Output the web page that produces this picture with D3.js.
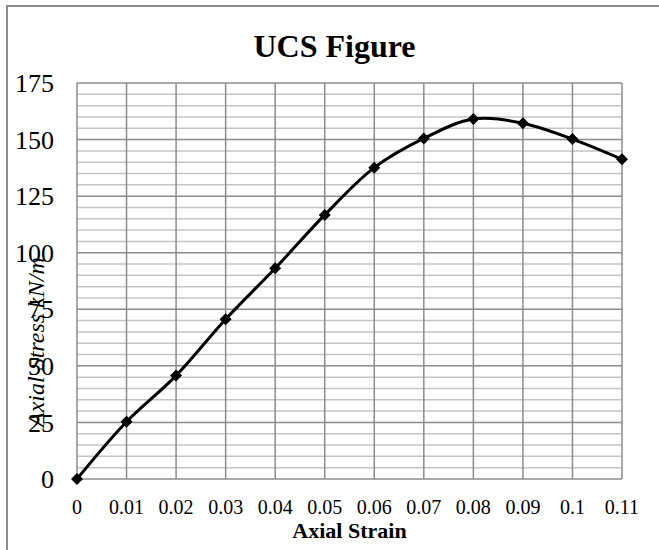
<!DOCTYPE html>
<html>
<head>
<meta charset="utf-8">
<script src="https://cdn.jsdelivr.net/npm/d3@7"></script>
<style>
    body { margin: 0; background: #fff; }
    svg { display: block; font-family: "Liberation Serif", "Times New Roman", serif; }
</style>
</head>
<body>
<svg id="chart" width="659" height="550"></svg>
<script>
// Strain readings and measured stress (kN/m2)
const strain = [0, 0.01, 0.02, 0.03, 0.04, 0.05, 0.06, 0.07, 0.08, 0.09, 0.1, 0.11];
const stress = [0, 25.3, 45.7, 70.6, 93.1, 116.7, 137.6, 150.5, 159.1, 157.2, 150.2, 141.3];

const xTickLabels = ["0", "0.01", "0.02", "0.03", "0.04", "0.05", "0.06", "0.07", "0.08", "0.09", "0.1", "0.11"];
const yTicks = [0, 25, 50, 75, 100, 125, 150, 175];

const svg = d3.select("#chart");

// Outer chart frame (only top and left edges fall inside the picture)
svg.append("path")
    .attr("d", "M7,550 V6 H659")
    .attr("fill", "none")
    .attr("stroke", "#8c8c8c")
    .attr("stroke-width", 2);

const plot = { left: 77, right: 622, top: 83, bottom: 479 };

const x = d3.scaleLinear().domain([0, 0.11]).range([plot.left, plot.right]);
const y = d3.scaleLinear().domain([0, 175]).range([plot.bottom, plot.top]);

// Minor horizontal gridlines every 5
const minor = d3.range(0, 176, 5).filter(v => v % 25 !== 0);
svg.append("g").selectAll("line")
    .data(minor)
    .join("line")
    .attr("x1", plot.left).attr("x2", plot.right)
    .attr("y1", d => y(d)).attr("y2", d => y(d))
    .attr("stroke", "#c4c4c4")
    .attr("stroke-width", 1.5);

// Major horizontal gridlines
svg.append("g").selectAll("line")
    .data(yTicks)
    .join("line")
    .attr("x1", plot.left).attr("x2", plot.right)
    .attr("y1", d => y(d)).attr("y2", d => y(d))
    .attr("stroke", "#8c8c8c")
    .attr("stroke-width", 1.5);

// Vertical gridlines
svg.append("g").selectAll("line")
    .data(strain)
    .join("line")
    .attr("x1", d => x(d)).attr("x2", d => x(d))
    .attr("y1", plot.top).attr("y2", plot.bottom)
    .attr("stroke", "#8c8c8c")
    .attr("stroke-width", 1.5);

// Y tick labels
svg.append("g").selectAll("text")
    .data(yTicks)
    .join("text")
    .attr("x", 54)
    .attr("y", d => y(d))
    .attr("dy", "0.35em")
    .attr("text-anchor", "end")
    .attr("font-size", 26)
    .attr("fill", "#000")
    .text(d => d);

// X tick labels
svg.append("g").selectAll("text")
    .data(strain)
    .join("text")
    .attr("x", d => x(d))
    .attr("y", 514)
    .attr("text-anchor", "middle")
    .attr("font-size", 20)
    .attr("fill", "#000")
    .text((d, i) => xTickLabels[i]);

// Title
svg.append("text")
    .attr("x", 334.5)
    .attr("y", 57)
    .attr("text-anchor", "middle")
    .attr("font-size", 32)
    .attr("font-weight", "bold")
    .text("UCS Figure");

// Axis titles
svg.append("text")
    .attr("x", (plot.left + plot.right) / 2)
    .attr("y", 538)
    .attr("text-anchor", "middle")
    .attr("font-size", 22)
    .attr("font-weight", "bold")
    .text("Axial Strain");

svg.append("text")
    .attr("transform", "translate(44,427) rotate(-90)")
    .attr("text-anchor", "start")
    .attr("font-size", 24)
    .attr("font-style", "italic")
    .text("Axial Stress kN/m");

// Smoothed curve
const pts = strain.map((s, i) => [s, stress[i]]);
const line = d3.line()
    .x(d => x(d[0]))
    .y(d => y(d[1]))
    .curve(d3.curveCatmullRom.alpha(0.5));

svg.append("path")
    .datum(pts)
    .attr("d", line)
    .attr("fill", "none")
    .attr("stroke", "#000")
    .attr("stroke-width", 3);

// Diamond markers
svg.append("g").selectAll("path")
    .data(pts)
    .join("path")
    .attr("transform", d => `translate(${x(d[0])},${y(d[1])}) rotate(45)`)
    .attr("d", d3.symbol().type(d3.symbolSquare).size(72))
    .attr("fill", "#000");
</script>
</body>
</html>
